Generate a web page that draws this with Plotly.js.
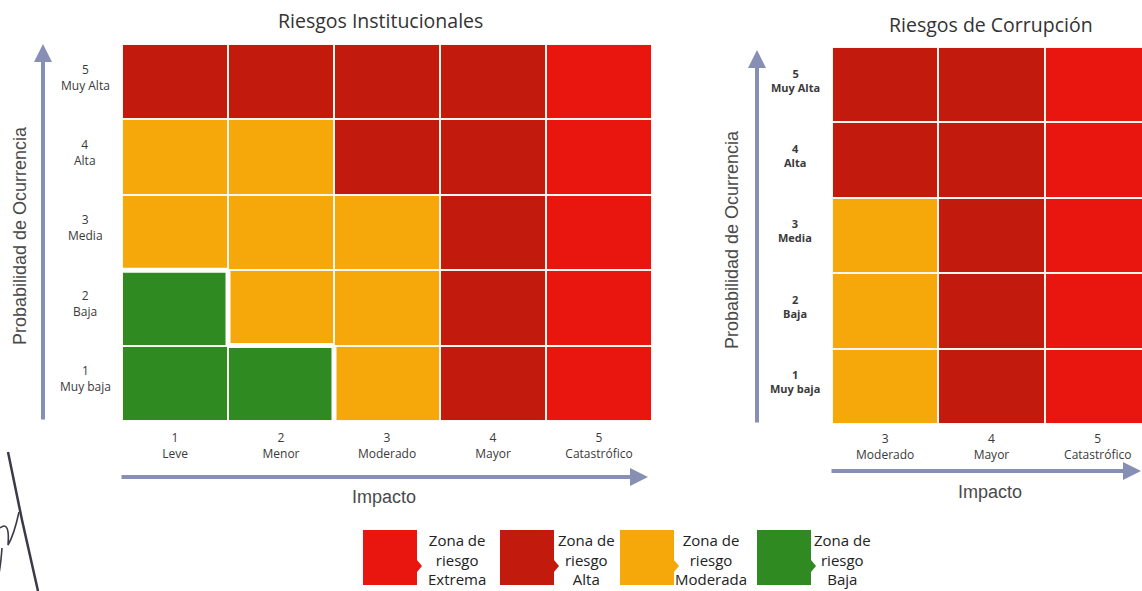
<!DOCTYPE html>
<html>
<head>
<meta charset="utf-8">
<script src="https://cdn.plot.ly/plotly-3.0.1.min.js"></script>
<style>html,body{margin:0;padding:0;background:#fff;}#chart{width:1142px;height:591px;}</style>
</head>
<body>
<div id="chart"></div>
<script>
// ---------- data ----------
const impactValues = [1, 2, 3, 4, 5];
const impactLabels = ['Leve', 'Menor', 'Moderado', 'Mayor', 'Catastrófico'];
const probValues = [1, 2, 3, 4, 5];
const probLabels = ['Muy baja', 'Baja', 'Media', 'Alta', 'Muy Alta'];
const zoneNames = ['Baja', 'Moderada', 'Alta', 'Extrema'];   // codes 0..3
const zoneColors = ['#2f8a22', '#f6a80b', '#c21b0e', '#e8160f'];
// rows = probability 1..5, columns = impact 1..5
const instZones = [
  [0, 0, 1, 2, 3],
  [0, 1, 1, 2, 3],
  [1, 1, 1, 2, 3],
  [1, 1, 2, 2, 3],
  [2, 2, 2, 2, 3]
];
const corrImpacts = [3, 4, 5];
const corrZones = [
  [1, 2, 3],
  [1, 2, 3],
  [1, 2, 3],
  [2, 2, 3],
  [2, 2, 3]
];
const legendOrder = [3, 2, 1, 0];
const titles = ['Riesgos Institucionales', 'Riesgos de Corrupción'];

// ---------- helpers ----------
const W = 1142, H = 591;
const px = x => x / W;
const py = y => 1 - y / H;
const colorscale = [];
zoneColors.forEach((c, i) => { colorscale.push([i / 4, c]); colorscale.push([(i + 1) / 4, c]); });

const fontBody = '"Open Sans", Lato, sans-serif';
const fontAxis = '"Liberation Sans Narrow", "Liberation Sans", Arial, sans-serif';

function heat(x, zones, xa, ya) {
  return {
    type: 'heatmap', x: x, y: probValues, z: zones,
    xaxis: xa, yaxis: ya, colorscale: colorscale, zmin: -0.5, zmax: 3.5,
    showscale: false, xgap: 2, ygap: 2, hoverinfo: 'skip'
  };
}

// white border around the "Baja" zone, derived from the zone matrix
function bajaBorder(x, zones, xa, ya) {
  const xs = [], ys = [];
  for (let r = 0; r < zones.length; r++) {
    for (let c = 0; c < zones[r].length; c++) {
      if (zones[r][c] !== 0) continue;
      const xv = x[c], yv = probValues[r];
      if (c + 1 < zones[r].length && zones[r][c + 1] !== 0) { xs.push(xv + 0.5, xv + 0.5, null); ys.push(yv - 0.5, yv + 0.5, null); }
      if (r + 1 < zones.length && zones[r + 1][c] !== 0) { xs.push(xv - 0.5, xv + 0.5, null); ys.push(yv + 0.5, yv + 0.5, null); }
    }
  }
  return { type: 'scatter', mode: 'lines', x: xs, y: ys, xaxis: xa, yaxis: ya,
    line: { color: '#ffffff', width: 5 }, hoverinfo: 'skip', showlegend: false, cliponaxis: false };
}

const data = [
  heat(impactValues, instZones, 'x', 'y'),
  bajaBorder(impactValues, instZones, 'x', 'y'),
  heat(corrImpacts, corrZones, 'x2', 'y2')
];

const tickFont = { family: fontBody, size: 12, color: '#3a3a3a' };
const layout = {
  width: W, height: H,
  margin: { l: 0, r: 0, t: 0, b: 0 },
  paper_bgcolor: '#ffffff', plot_bgcolor: '#fbf7f0',
  showlegend: false,
  xaxis: { domain: [px(122), px(652)], range: [0.5, 5.5], anchor: 'y',
    tickvals: impactValues, ticktext: impactValues.map((v, i) => v + '<br>' + impactLabels[i]),
    showgrid: false, zeroline: false, ticks: '', ticklabelstandoff: 8, tickfont: tickFont, fixedrange: true },
  yaxis: { domain: [py(421), py(44)], range: [0.5, 5.5], anchor: 'x',
    showticklabels: false, showgrid: false, zeroline: false, ticks: '', fixedrange: true },
  xaxis2: { domain: [px(832), 1], range: [2.5, 2.5 + (1142 - 832) / 106.3], anchor: 'y2',
    tickvals: corrImpacts, ticktext: corrImpacts.map(v => v + '<br>' + impactLabels[v - 1]),
    showgrid: false, zeroline: false, ticks: '', ticklabelstandoff: 6, tickfont: tickFont, fixedrange: true },
  yaxis2: { domain: [py(424), py(47)], range: [0.5, 5.5], anchor: 'x2',
    showticklabels: false, showgrid: false, zeroline: false, ticks: '', fixedrange: true },
  annotations: [],
  shapes: []
};

const ann = layout.annotations;
function text(x, y, t, font, extra) {
  ann.push(Object.assign({ xref: 'paper', yref: 'paper', x: x, y: y, text: t, showarrow: false,
    xanchor: 'center', yanchor: 'middle', align: 'center', font: font }, extra || {}));
}
// y tick labels (centred, two lines)
probValues.forEach((v, i) => {
  text(px(85), v + 0.06, v + '<br>' + probLabels[i], tickFont, { yref: 'y' });
  text(px(795), v + 0.06, '<b>' + v + '<br>' + probLabels[i] + '</b>', { family: fontBody, size: 11, color: '#3a3a3a' }, { yref: 'y2' });
});
// titles
text(px(380), py(20), titles[0], { family: fontBody, size: 19.5, color: '#333' });
text(px(991), py(24), titles[1], { family: fontBody, size: 19.5, color: '#333' });
// axis titles
const axisFont = { family: fontAxis, size: 18, color: '#4a4a4a' };
text(px(20), py(236), 'Probabilidad de Ocurrencia', axisFont, { textangle: -90 });
text(px(732), py(240), 'Probabilidad de Ocurrencia', axisFont, { textangle: -90 });
text(px(384), py(497), 'Impacto', axisFont);
text(px(990), py(492), 'Impacto', axisFont);
// axis arrows
const arrowColor = '#8790b4';
function arrow(x0, y0, x1, y1) {
  ann.push({ xref: 'paper', yref: 'paper', axref: 'paper', ayref: 'paper', x: px(x1), y: py(y1), ax: px(x0), ay: py(y0),
    text: '', showarrow: true, arrowhead: 2, arrowsize: 0.9, arrowwidth: 4, arrowcolor: arrowColor });
}
arrow(43, 421, 43, 44);
arrow(120, 477, 648, 477);
arrow(757, 424, 757, 50);
arrow(830, 471, 1142, 471);

// legend
const legX = [363, 500, 620, 757];
const legTextX = [457, 586, 711, 843];
legendOrder.forEach((z, i) => {
  const x0 = legX[i], x1 = x0 + 54, y0 = 530, y1 = 585;
  layout.shapes.push({ type: 'path', xref: 'paper', yref: 'paper',
    path: `M ${px(x0)},${py(y0)} L ${px(x1)},${py(y0)} L ${px(x1)},${py(560)} L ${px(x1 + 5)},${py(566)} L ${px(x1)},${py(572)} L ${px(x1)},${py(y1)} L ${px(x0)},${py(y1)} Z`,
    fillcolor: zoneColors[z], line: { width: 0 } });
  text(px(legTextX[i]), py(559), 'Zona de<br>riesgo<br>' + zoneNames[z], { family: fontBody, size: 15, color: '#222' });
});

// handwritten signature mark (decorative, bottom-left)
layout.shapes.push({ type: 'path', xref: 'paper', yref: 'paper',
  path: `M ${px(8)},${py(452)} L ${px(22)},${py(520)} L ${px(38)},${py(591)}`,
  line: { color: '#3a3a48', width: 2.5 } });
layout.shapes.push({ type: 'path', xref: 'paper', yref: 'paper',
  path: `M ${px(0)},${py(528)} Q ${px(10)},${py(520)} ${px(8)},${py(545)} Q ${px(14)},${py(535)} ${px(19)},${py(512)} M ${px(2)},${py(548)} Q ${px(0)},${py(575)} ${px(-4)},${py(585)}`,
  line: { color: '#3a3a48', width: 1.6 } });

Plotly.newPlot('chart', data, layout, { staticPlot: true, displayModeBar: false });
</script>
</body>
</html>
